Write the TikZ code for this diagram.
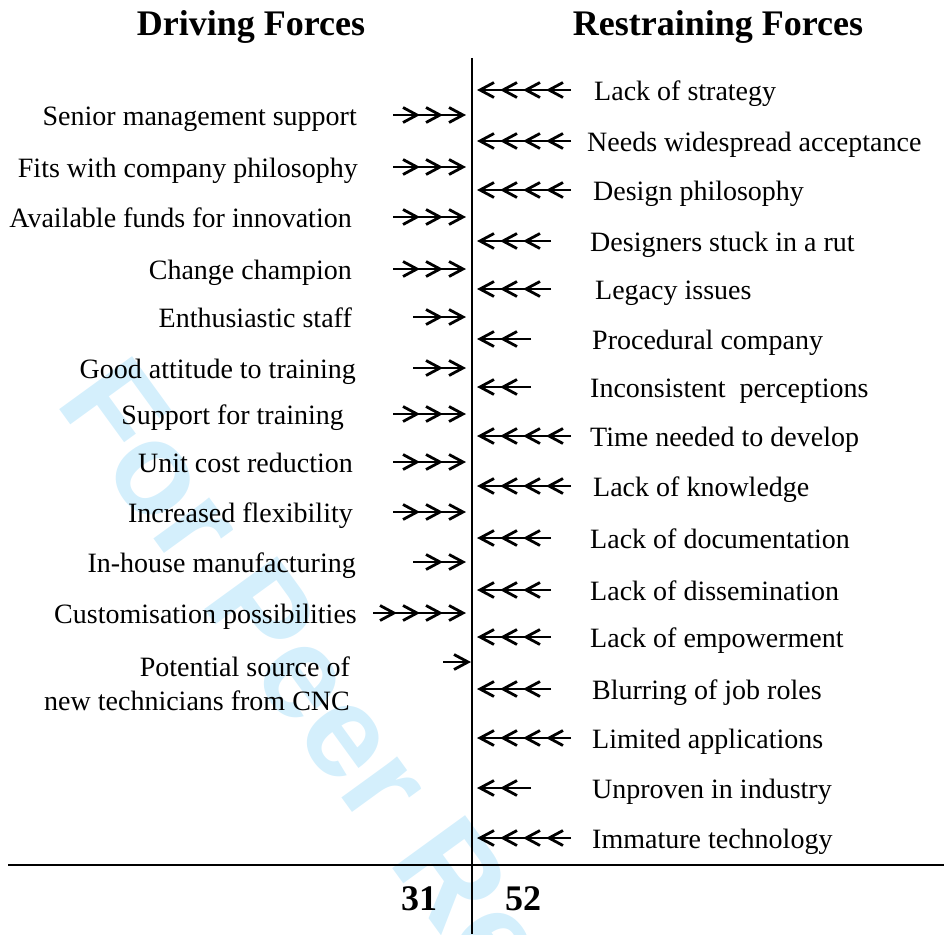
\documentclass[tikz,border=0pt]{standalone}
\usepackage{fontspec}
\setmainfont{Liberation Serif}
\newfontfamily\wmfont{Liberation Sans}
\definecolor{wmcol}{RGB}{212,239,252}
\tikzset{
  lbl/.style={font=\fontsize{28}{34}\selectfont, inner sep=0pt},
  ttl/.style={font=\fontsize{36}{40}\selectfont\bfseries, inner sep=0pt},
  wmtext/.style={font=\wmfont\bfseries\fontsize{131}{131}\selectfont, text=wmcol, inner sep=0pt},
  shaft/.style={line width=2.3pt},
  chev/.style={line width=2.8pt, line join=miter},
  axisline/.style={line width=2.6pt},
}
\begin{document}
\begin{tikzpicture}[x=1pt,y=-1pt]
\useasboundingbox (0,0) rectangle (944,934);
% watermark
\begin{scope}
\clip (0,0) rectangle (944,934);
\node[wmtext, rotate=-54, anchor=base west] (wm) at (54,402) {For Peer Review};
\end{scope}
% axes
\coordinate (vt) at (472,58);
\coordinate (vb) at (472,934);
\coordinate (hl) at (8,865);
\coordinate (hr) at (944,865);
\draw[axisline] (vt) -- (vb);
\draw[axisline] (hl) -- (hr);
% titles
\node[ttl, anchor=base] (dtitle) at (251,36) {Driving Forces};
\node[ttl, anchor=base] (rtitle) at (718,36) {Restraining Forces};
\node[ttl, anchor=base] (dsum) at (419,910) {31};
\node[ttl, anchor=base] (rsum) at (523,910) {52};
% driving forces
\foreach \i/\y/\n/\r/\txt in {
  1/115/3/357/Senior management support,
  2/167/3/358/Fits with company philosophy,
  3/217/3/352/Available funds for innovation,
  4/269/3/352/Change champion,
  5/317/2/352/Enthusiastic staff,
  6/368/2/356/Good attitude to training,
  7/414/3/344/Support for training,
  8/462/3/353/Unit cost reduction,
  9/512/3/353/Increased flexibility,
  10/562/2/356/In-house manufacturing,
  11/613/4/357/Customisation possibilities}{
  \node[lbl, anchor=base east] (L\i) at (\r,\y+10) {\txt};
  \coordinate (La\i) at ({463-20*\n-10},\y);
  \coordinate (Lb\i) at (463,\y);
  \draw[shaft] (La\i) -- (Lb\i);
  \foreach \k in {1,...,\n}{
    \draw[chev] ([xshift={-(\k-1)*23pt-14pt}, yshift=7.5pt]Lb\i)
      -- ([xshift={-(\k-1)*23pt}]Lb\i)
      -- ([xshift={-(\k-1)*23pt-14pt}, yshift=-7.5pt]Lb\i);
  }
}
\node[lbl, anchor=base east] (P1) at (350,676) {Potential source of};
\node[lbl, anchor=base east] (P2) at (350,710) {new technicians from CNC};
\coordinate (Pa) at (443,662);
\coordinate (Pb) at (468,662);
\draw[shaft] (Pa) -- (Pb);
\draw[chev] ([xshift=-14pt, yshift=7.5pt]Pb) -- (Pb) -- ([xshift=-14pt, yshift=-7.5pt]Pb);
% restraining forces
\foreach \i/\y/\n/\l/\txt in {
  1/90/4/594/Lack of strategy,
  2/141/4/587/Needs widespread acceptance,
  3/190/4/593/Design philosophy,
  4/241/3/590/Designers stuck in a rut,
  5/289/3/595/Legacy issues,
  6/339/2/592/Procedural company,
  7/387/2/590/Inconsistent\ \ perceptions,
  8/436/4/590/Time needed to develop,
  9/486/4/593/Lack of knowledge,
  10/538/3/590/Lack of documentation,
  11/590/3/590/Lack of dissemination,
  12/637/3/590/Lack of empowerment,
  13/689/3/592/Blurring of job roles,
  14/738/4/592/Limited applications,
  15/788/2/592/Unproven in industry,
  16/838/4/592/Immature technology}{
  \node[lbl, anchor=base west] (R\i) at (\l,\y+10) {\txt};
  \coordinate (Ra\i) at ({480+20*\n+11},\y);
  \coordinate (Rb\i) at (480,\y);
  \draw[shaft] (Ra\i) -- (Rb\i);
  \foreach \k in {1,...,\n}{
    \draw[chev] ([xshift={(\k-1)*23pt+14pt}, yshift=7.5pt]Rb\i)
      -- ([xshift={(\k-1)*23pt}]Rb\i)
      -- ([xshift={(\k-1)*23pt+14pt}, yshift=-7.5pt]Rb\i);
  }
}
\end{tikzpicture}
\end{document}
